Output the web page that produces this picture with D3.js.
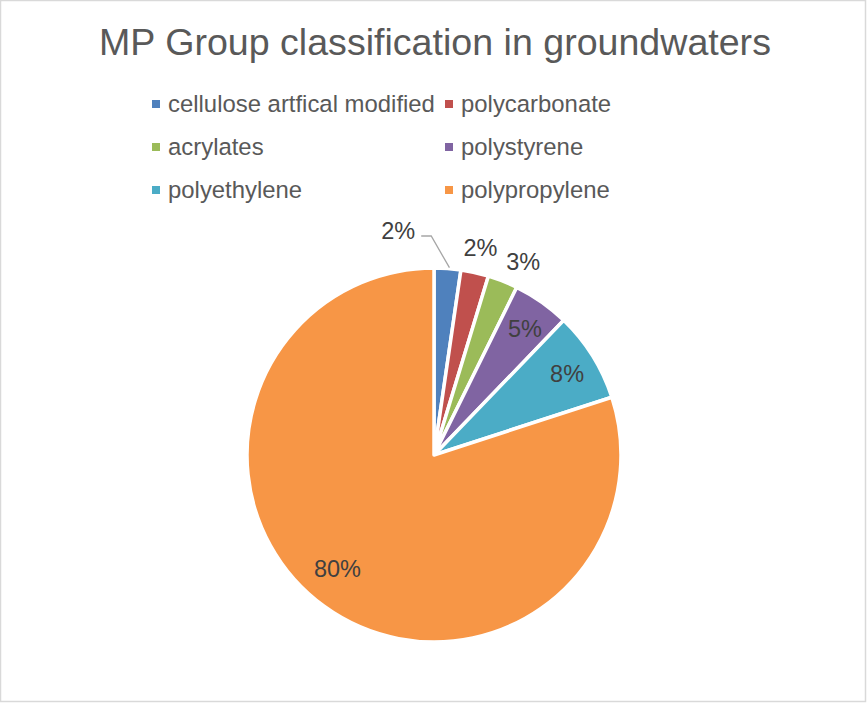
<!DOCTYPE html>
<html><head><meta charset="utf-8">
<script src="https://cdn.jsdelivr.net/npm/d3@7"></script>
<style>body{margin:0;background:#fff}svg{display:block}text{font-family:"Liberation Sans",Arial,sans-serif}</style>
</head><body>
<script>
const title = "MP Group classification in groundwaters";
const categories = ["cellulose artfical modified","polycarbonate","acrylates","polystyrene","polyethylene","polypropylene"];
const values = [2.3, 2.4, 2.6, 4.9, 7.8, 80.0];
const colors = ["#4f81bd","#c0504d","#9bbb59","#8064a2","#4bacc6","#f79646"];

const W = 868, H = 704;
const svg = d3.select("body").append("svg").attr("width", W).attr("height", H);
svg.append("rect").attr("x",0.5).attr("y",0.5).attr("width",865).attr("height",701)
  .attr("fill","#fff").attr("stroke","#d9d9d9").attr("stroke-width",1.5);

svg.append("text").attr("x",435).attr("y",55).attr("text-anchor","middle")
  .attr("font-size",37.6).attr("fill","#595959").text(title);

// legend
const legX = [152, 445], legY = [104, 147, 190];
const leg = svg.append("g");
categories.forEach((c,i)=>{
  const x = legX[i%2], y = legY[Math.floor(i/2)];
  leg.append("rect").attr("x",x).attr("y",y-4).attr("width",8).attr("height",8).attr("fill",colors[i]);
  leg.append("text").attr("x",x+16).attr("y",y+7.8).attr("font-size",23.9).attr("fill","#595959").text(c);
});

const cx = 434, cy = 455, R = 187;
const pie = d3.pie().sort(null).value(d=>d)(values);
const arc = d3.arc().innerRadius(0).outerRadius(R);
const g = svg.append("g").attr("transform",`translate(${cx},${cy})`);
g.selectAll("path").data(pie).join("path").attr("d",arc)
  .attr("fill",(d,i)=>colors[i]).attr("stroke","#fff").attr("stroke-width",3.5).attr("stroke-linejoin","round");

const total = d3.sum(values);
const fmt = v => Math.round(v/total*100) + "%";
const polar = (a, r) => [r*Math.sin(a), -r*Math.cos(a)];
const fs = 23.5, dy = 8.5;
pie.forEach((d,i)=>{
  const mid = (d.startAngle+d.endAngle)/2;
  const pct = d.value/total;
  let x, y, anchor = "middle";
  if (pct > 0.5) {
    [x,y] = polar(mid + 0.077, 149);
  } else if (pct > 0.04) {
    [x,y] = polar(mid + 0.01, 156);
  } else if (i === 0) {
    const p0 = polar(mid + 0.01, R+1);
    const p1 = polar(mid - 0.085, R+32);
    const p2 = [p1[0]-10, p1[1]];
    g.append("polyline").attr("points",[p0,p1,p2].map(p=>p.join(",")).join(" "))
      .attr("fill","none").attr("stroke","#a6a6a6").attr("stroke-width",1.3);
    x = p2[0]-6; y = p2[1]-6; anchor = "end";
  } else {
    [x,y] = polar(mid + (i===2 ? 0.055 : 0), 213);
  }
  g.append("text").attr("x",x).attr("y",y+dy).attr("text-anchor",anchor)
    .attr("font-size",fs).attr("fill","#404040").text(fmt(d.value));
});
</script>
</body></html>
